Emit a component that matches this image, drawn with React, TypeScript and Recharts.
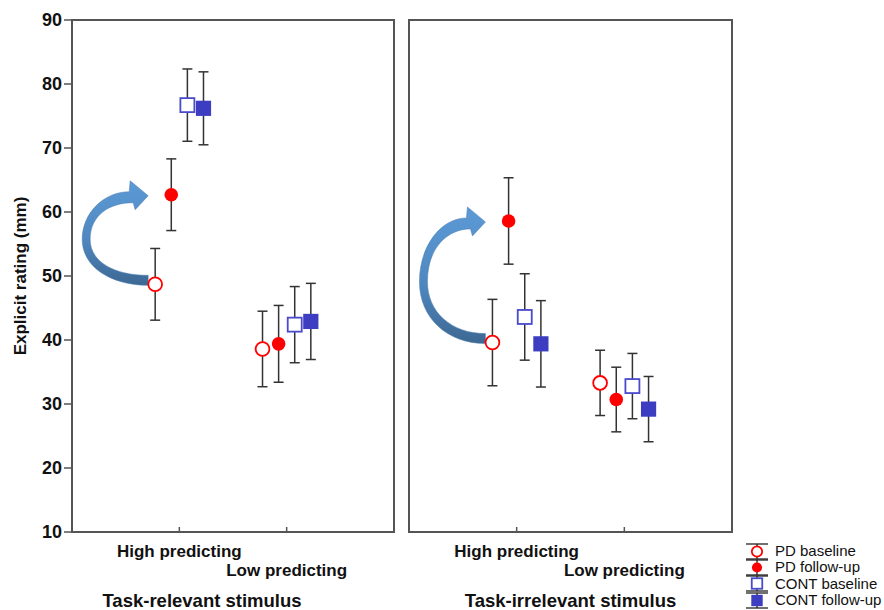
import { ScatterChart, Scatter, XAxis, YAxis, ErrorBar, ReferenceArea, ReferenceDot, Legend } from 'recharts'

const categories = ['High predicting', 'Low predicting']
const yTicks = [10, 20, 30, 40, 50, 60, 70, 80, 90]
const seriesNames = ['PD baseline', 'PD follow-up', 'CONT baseline', 'CONT follow-up']

// task-relevant stimulus
const relPdBase = [48.7, 38.6]
const relPdBaseErr = [5.6, 5.9]
const relPdFollow = [62.7, 39.4]
const relPdFollowErr = [5.6, 6.0]
const relContBase = [76.7, 42.4]
const relContBaseErr = [5.65, 5.95]
const relContFollow = [76.2, 42.9]
const relContFollowErr = [5.7, 5.95]

// task-irrelevant stimulus
const irrPdBase = [39.6, 33.3]
const irrPdBaseErr = [6.75, 5.1]
const irrPdFollow = [58.6, 30.7]
const irrPdFollowErr = [6.75, 5.05]
const irrContBase = [43.6, 32.8]
const irrContBaseErr = [6.75, 5.1]
const irrContFollow = [39.4, 29.2]
const irrContFollowErr = [6.75, 5.1]

const FONT = "Arial, 'Liberation Sans', Helvetica, sans-serif"
const OFFSETS = [-0.225, -0.075, 0.075, 0.225]
const PLOT_TOP = 20
const PLOT_H = 512
const PX_PER_UNIT = PLOT_H / (yTicks[yTicks.length - 1] - yTicks[0])
const RED = '#ff0000'
const BLUE = '#3d3dc2'

const build = (vals: number[][], errs: number[][]) =>
    vals.map((v, i) => categories.map((c, j) => ({ x: j + 1 + OFFSETS[i], y: v[j], err: errs[i][j], cat: c })))

const relData = build(
    [relPdBase, relPdFollow, relContBase, relContFollow],
    [relPdBaseErr, relPdFollowErr, relContBaseErr, relContFollowErr]
)
const irrData = build(
    [irrPdBase, irrPdFollow, irrContBase, irrContFollow],
    [irrPdBaseErr, irrPdFollowErr, irrContBaseErr, irrContFollowErr]
)

const Marker = ({ kind, cx, cy, s = 1 }: { kind: number; cx: number; cy: number; s?: number }) => {
    if (kind === 0) return <circle cx={cx} cy={cy} r={6.9 * s} fill="#fff" stroke={RED} strokeWidth={1.8} />
    if (kind === 1) return <circle cx={cx} cy={cy} r={6.8 * s} fill={RED} />
    if (kind === 2) {
        const h = 7 * s
        return <rect x={cx - h} y={cy - h} width={2 * h} height={2 * h} fill="#fff" stroke="#4a4acc" strokeWidth={1.8} />
    }
    const h = 7.6 * s
    return <rect x={cx - h} y={cy - h} width={2 * h} height={2 * h} fill={BLUE} />
}

const shapeFor = (kind: number) => (p: any) => {
    const cx = p.cx ?? p.x + p.width / 2
    const cy = p.cy ?? p.y + p.height / 2
    return <Marker kind={kind} cx={cx} cy={cy} />
}

// curved arrow from the PD baseline marker up to the PD follow-up marker
const Arrow = ({ cx, cy, rise, id }: { cx: number; cy: number; rise: number; id: string }) => {
    const H = rise
    const d = `M 2 1 C -36 1, -64 ${-0.2 * H}, -64 ${-0.5 * H}
      C -64 ${-0.8 * H}, -42 ${-H - 3}, -17 ${-H - 3}
      L -16 ${-H - 14} L 2 ${-H + 1} L -11 ${-H + 15} L -13 ${-H + 8}
      C -36 ${-H + 8}, -56 ${-0.78 * H}, -56 ${-0.5 * H}
      C -56 ${-0.25 * H}, -32 -9, 2 -9 Z`
    return (
        <g transform={`translate(${cx - 9},${cy})`}>
            <defs>
                <linearGradient id={id} x1="0" y1="0" x2="0" y2="1">
                    <stop offset="0%" stopColor="#5c9ad6" />
                    <stop offset="55%" stopColor="#4f88c0" />
                    <stop offset="100%" stopColor="#3d6893" />
                </linearGradient>
            </defs>
            <path d={d} fill={`url(#${id})`} stroke="#4a7db0" strokeWidth={0.5} />
        </g>
    )
}

const CatTick = ({ x, y, payload }: any) => {
    const i = Math.round(payload.value) - 1
    return (
        <g>
            <line x1={x} x2={x} y1={y} y2={y - 5} stroke="#555" strokeWidth={1.5} />
            <text x={x} y={y + (i === 0 ? 25 : 44)} textAnchor="middle" fill="#111"
                fontFamily={FONT} fontWeight="bold" fontSize={17}>
                {categories[i]}
            </text>
        </g>
    )
}

const LegendBox = () => (
    <div style={{ fontFamily: FONT, fontSize: 15, color: '#111', lineHeight: '16.3px' }}>
        {seriesNames.map((n, i) => (
            <div key={n} style={{ display: 'flex', alignItems: 'center', height: 16.3 }}>
                <svg width={24} height={17} style={{ display: 'block' }}>
                    <line x1={1} x2={23} y1={1} y2={1} stroke="#222" strokeWidth={1.3} />
                    <line x1={1} x2={23} y1={16} y2={16} stroke="#222" strokeWidth={1.3} />
                    <line x1={12} x2={12} y1={1} y2={16} stroke="#222" strokeWidth={1.3} />
                    <Marker kind={i} cx={12} cy={8.5} s={0.75} />
                </svg>
                <span style={{ marginLeft: 6 }}>{n}</span>
            </div>
        ))}
    </div>
)

type PanelProps = {
    data: { x: number; y: number; err: number; cat: string }[][]
    pdBase: number[]
    pdFollow: number[]
    title: string
    titleDx: number
    left: boolean
    id: string
}

const Panel = ({ data, pdBase, pdFollow, title, titleDx, left, id }: PanelProps) => (
    <ScatterChart
        width={left ? 400 : 484}
        height={610}
        margin={left ? { top: PLOT_TOP, right: 6, bottom: 0, left: 0 } : { top: PLOT_TOP, right: 152, bottom: 0, left: 9 }}
    >
        <XAxis
            type="number"
            dataKey="x"
            domain={[0, 3]}
            ticks={[1, 2]}
            height={78}
            axisLine={false}
            tickLine={false}
            tickSize={0}
            tickMargin={0}
            tick={<CatTick />}
            label={{ value: title, position: 'insideBottom', offset: 3, dx: titleDx, fill: '#111', fontSize: 18.5, fontWeight: 'bold', fontFamily: FONT }}
        />
        {left ? (
            <YAxis
                type="number"
                dataKey="y"
                domain={[10, 90]}
                ticks={yTicks}
                width={72}
                axisLine={false}
                tickLine={{ stroke: '#555', strokeWidth: 1.5 }}
                tickSize={8}
                tickMargin={2}
                tick={{ fill: '#111', fontSize: 18, fontWeight: 'bold', fontFamily: FONT }}
                label={{ value: 'Explicit rating (mm)', angle: -90, position: 'center', dx: -16, fill: '#111', fontSize: 17, fontWeight: 'bold', fontFamily: FONT }}
            />
        ) : (
            <YAxis
                type="number"
                dataKey="y"
                domain={[10, 90]}
                ticks={yTicks}
                width={0}
                mirror
                axisLine={false}
                tickLine={{ stroke: '#555', strokeWidth: 1.5 }}
                tickSize={4}
                tickFormatter={() => ''}
            />
        )}
        <ReferenceArea x1={0} x2={3} y1={10} y2={90} fill="none" fillOpacity={0} stroke="#555" strokeWidth={2} />
        <ReferenceDot
            x={1 + OFFSETS[0]}
            y={pdBase[0]}
            r={1}
            shape={(p: any) => <Arrow cx={p.cx} cy={p.cy} rise={(pdFollow[0] - pdBase[0]) * PX_PER_UNIT} id={id} />}
        />
        {data.map((pts, i) => (
            <Scatter key={seriesNames[i]} name={seriesNames[i]} data={pts} shape={shapeFor(i)} isAnimationActive={false}>
                <ErrorBar dataKey="err" direction="y" width={5} stroke="#333" strokeWidth={1.5} />
            </Scatter>
        ))}
        {!left && (
            <Legend
                layout="horizontal"
                align="center"
                verticalAlign="middle"
                content={<LegendBox />}
                wrapperStyle={{ left: 345, top: 543, width: 140 }}
            />
        )}
    </ScatterChart>
)

export default function App() {
    return (
        <div style={{ position: 'fixed', left: 0, top: 0, width: 884, height: 610, background: '#fff', fontFamily: FONT }}>
            <div style={{ position: 'absolute', left: 0, top: 0 }}>
                <Panel data={relData} pdBase={relPdBase} pdFollow={relPdFollow} title="Task-relevant stimulus" titleDx={-31} left id="arrowRel" />
            </div>
            <div style={{ position: 'absolute', left: 400, top: 0 }}>
                <Panel data={irrData} pdBase={irrPdBase} pdFollow={irrPdFollow} title="Task-irrelevant stimulus" titleDx={0} left={false} id="arrowIrr" />
            </div>
        </div>
    )
}
